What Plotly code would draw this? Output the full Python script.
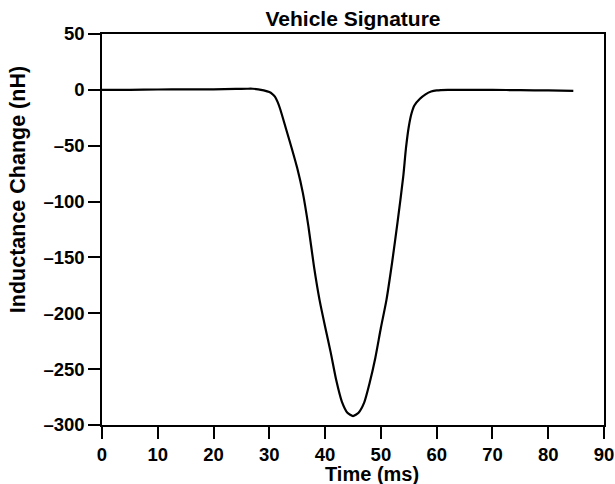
import plotly.graph_objects as go

# Time (ms) and inductance change (nH)
time_ms = [0, 5, 10, 15, 20, 24, 26, 27, 28, 29, 30, 30.5, 31, 31.5, 32, 33, 34, 35,
           36, 37, 38, 39, 40, 41, 42, 43, 44, 45, 46, 47, 48, 49, 50, 51, 52, 53,
           54, 54.5, 55, 55.5, 56, 57, 58, 59, 60, 62, 65, 70, 75, 80, 84.5]
induct_nh = [0, 0, 0.3, 0.5, 0.5, 0.8, 1, 1, 0.5, -0.5, -2, -3.5, -6, -11, -18, -35, -52, -70,
             -92, -122, -158, -188, -212, -235, -260, -279, -289, -292, -289, -280, -262, -240, -213, -188, -155, -118,
             -78, -52, -33, -21, -14, -8, -4, -1.5, -0.5, 0, 0, 0, -0.3, -0.5, -1]

x_ticks = [0, 10, 20, 30, 40, 50, 60, 70, 80, 90]
y_ticks = [50, 0, -50, -100, -150, -200, -250, -300]
y_tick_text = ["50", "0", "–50", "–100", "–150", "–200", "–250", "–300"]

FONT = "Arial, Liberation Sans, sans-serif"

fig = go.Figure()
fig.add_trace(go.Scatter(x=time_ms, y=induct_nh, mode="lines",
                         line=dict(color="black", width=2.2, shape="spline", smoothing=0.6),
                         showlegend=False))

axis_common = dict(showline=True, linecolor="black", linewidth=1.5, mirror=True,
                   ticks="outside", ticklen=12, tickwidth=1.5, tickcolor="black",
                   showgrid=False, zeroline=False, automargin=False,
                   tickfont=dict(family=FONT, size=18.5, color="black", weight="bold"))

fig.update_xaxes(range=[0, 90], tickvals=x_ticks, **axis_common)
fig.update_yaxes(range=[-300, 50], tickvals=y_ticks, ticktext=y_tick_text, **axis_common)

# axis titles placed as annotations (offset from plot centre as in the reference)
fig.add_annotation(text="Time (ms)", xref="paper", yref="paper", x=0.538, y=-0.1253,
                   xanchor="center", yanchor="middle", showarrow=False,
                   font=dict(family=FONT, size=20, color="black", weight="bold"))
fig.add_annotation(text="Inductance Change (nH)", xref="paper", yref="paper", x=-0.167, y=0.601,
                   xanchor="center", yanchor="middle", showarrow=False, textangle=-90,
                   font=dict(family=FONT, size=21.5, color="black", weight="bold"))

fig.update_layout(
    template="none",
    width=615, height=484,
    margin=dict(l=102, r=11, t=34, b=59),
    paper_bgcolor="white", plot_bgcolor="white",
    title=dict(text="Vehicle Signature", x=0.5, xref="paper", xanchor="center",
               y=1 - 19 / 484, yanchor="middle",
               font=dict(family=FONT, size=21, color="black", weight="bold")),
)

fig.write_html("out.html", config={"displayModeBar": False},
               post_script="document.body.style.margin='0';")
